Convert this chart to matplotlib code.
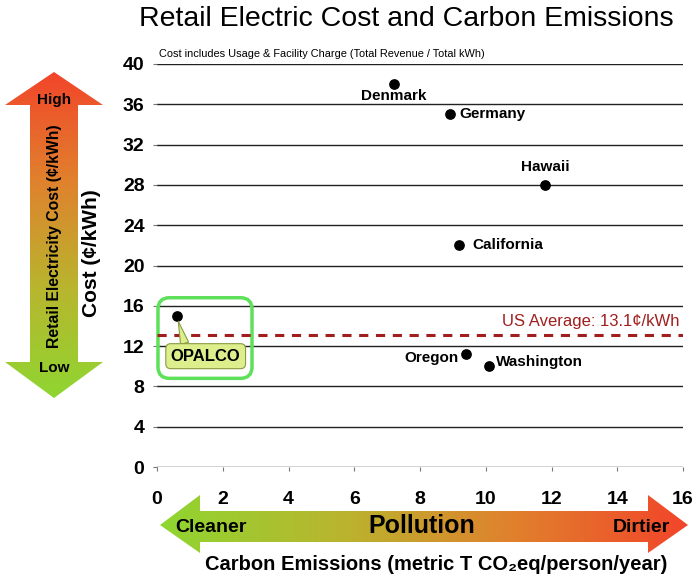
import matplotlib.pyplot as plt
import numpy as np
from matplotlib.patches import Polygon, FancyBboxPatch
from matplotlib.colors import LinearSegmentedColormap

plt.rcParams['font.family'] = ['Liberation Sans', 'DejaVu Sans']

# data
places = ['Denmark', 'Germany', 'Hawaii', 'California', 'OPALCO', 'Oregon', 'Washington']
emissions = [7.2, 8.9, 11.8, 9.2, 0.6, 9.4, 10.1]
cost = [38.0, 35.0, 28.0, 22.0, 15.0, 11.2, 10.0]
us_average = 13.1
x_ticks = [0, 2, 4, 6, 8, 10, 12, 14, 16]
y_ticks = [0, 4, 8, 12, 16, 20, 24, 28, 32, 36, 40]

W, H = 700, 580
fig = plt.figure(figsize=(W / 100, H / 100), dpi=100)
ax = fig.add_axes([157 / W, 1 - 467 / H, 526 / W, 403 / H])

ax.set_xlim(0, 16)
ax.set_ylim(0, 40)
ax.set_xticks(x_ticks)
ax.set_yticks(y_ticks)
for s in ax.spines.values():
    s.set_visible(False)
ax.grid(axis='y', color='#222222', lw=1.0)
ax.set_axisbelow(True)
ax.tick_params(axis='both', length=3, width=0.8, color='#777777', labelsize=14)
ax.tick_params(axis='x', pad=14)
ax.tick_params(axis='y', pad=6)
for lab in ax.get_xticklabels() + ax.get_yticklabels():
    lab.set_fontweight('bold')

ax.set_ylabel('Cost (¢/kWh)', fontsize=15, fontweight='bold')
ax.yaxis.set_label_coords(-0.106, 0.53)

ax.scatter(emissions, cost, s=45, color='black', zorder=3)

# point labels: (dx px, dy px, alignment)
offsets = {
    'Denmark': (0, -12, 'center'),
    'Germany': (10, 0, 'left'),
    'Hawaii': (0, 18, 'center'),
    'California': (13, 0, 'left'),
    'Oregon': (-7, -4, 'right'),
    'Washington': (7, 4, 'left'),
}
for name, x, y in zip(places, emissions, cost):
    if name in offsets:
        dx, dy, ha = offsets[name]
        ax.annotate(name, (x, y), xytext=(dx, dy), textcoords='offset pixels',
                    ha=ha, va='center', fontsize=11, fontweight='bold')

# OPALCO callout
ax.annotate('OPALCO', (emissions[4], cost[4]), xytext=(0.42, 11.0),
            ha='left', va='center', fontsize=12, fontweight='bold',
            bbox=dict(boxstyle='round,pad=0.3,rounding_size=0.3', fc='#dcef8c', ec='#8a9a40', lw=0.8),
            arrowprops=dict(arrowstyle='wedge,tail_width=0.5', fc='#dcef8c', ec='#8a9a40', lw=0.8,
                            shrinkA=0, shrinkB=4, relpos=(0.22, 1.0)),
            zorder=5)
aspect = (40 / 403) / (16 / 526)
ax.add_patch(FancyBboxPatch((0.03, 8.8), 2.86, 8.0, boxstyle='round,pad=0,rounding_size=0.35',
                            fc='none', ec='#5ee05a', lw=2.5, mutation_aspect=aspect,
                            zorder=2, clip_on=False))

# US average
ax.axhline(us_average, color='#a01e1e', lw=2.2, ls=(0, (3, 2.5)), zorder=2)
ax.text(15.9, us_average + 0.6, 'US Average: 13.1¢/kWh', color='#a01e1e', ha='right', va='bottom',
        fontsize=12)

ax.text(0.05, 40.5, 'Cost includes Usage & Facility Charge (Total Revenue / Total kWh)',
        fontsize=7.9, ha='left', va='bottom')

fig.text(406 / W, 1 - 19 / H, 'Retail Electric Cost and Carbon Emissions', fontsize=20.5,
         ha='center', va='center')

# decorative gradient arrows drawn in pixel coordinates
ov = fig.add_axes([0, 0, 1, 1], zorder=5)
ov.patch.set_alpha(0)
ov.axis('off')

cmap = LinearSegmentedColormap.from_list('pol', ['#8fd631', '#b8b62e', '#e0812d', '#f2452a'])


def gradient_arrow(verts, vertical):
    verts = np.array(verts, dtype=float)
    x0, y0 = verts.min(axis=0)
    x1, y1 = verts.max(axis=0)
    g = np.linspace(0, 1, 256)
    if vertical:
        img = g[::-1].reshape(-1, 1)  # red at the top
    else:
        img = g.reshape(1, -1)  # red at the right
    im = ov.imshow(img, cmap=cmap, vmin=0, vmax=1, extent=(x0, x1, y1, y0),
                   aspect='auto', origin='upper', interpolation='bilinear')
    poly = Polygon(verts, closed=True, fc='none', ec='none')
    ov.add_patch(poly)
    im.set_clip_path(poly)


# vertical arrow (cost)
cx = 54
gradient_arrow([(cx, 72), (cx + 49, 105), (cx + 24, 105), (cx + 24, 362), (cx + 49, 362),
                (cx, 398), (cx - 49, 362), (cx - 24, 362), (cx - 24, 105), (cx - 49, 105)],
               vertical=True)
# horizontal arrow (pollution)
cy = 525
gradient_arrow([(160, cy), (200, cy - 30), (200, cy - 14), (648, cy - 14), (648, cy - 30),
                (688, cy), (648, cy + 28), (648, cy + 17), (200, cy + 17), (200, cy + 28)],
               vertical=False)
ov.set_xlim(0, W)
ov.set_ylim(H, 0)

ov.text(cx, 100, 'High', ha='center', va='center', fontsize=11, fontweight='bold')
ov.text(cx, 368, 'Low', ha='center', va='center', fontsize=11, fontweight='bold')
ov.text(cx + 1, 236, 'Retail Electricity Cost (¢/kWh)', rotation=90, ha='center', va='center',
        fontsize=11.3, fontweight='bold')

ov.text(211, cy + 2, 'Cleaner', ha='center', va='center', fontsize=14, fontweight='bold')
ov.text(422, cy + 1, 'Pollution', ha='center', va='center', fontsize=18, fontweight='bold')
ov.text(641, cy + 2, 'Dirtier', ha='center', va='center', fontsize=14, fontweight='bold')
ov.text(436, 564, 'Carbon Emissions (metric T CO₂eq/person/year)', ha='center', va='center',
        fontsize=14.5, fontweight='bold')

fig.savefig('out.png', dpi=100)
